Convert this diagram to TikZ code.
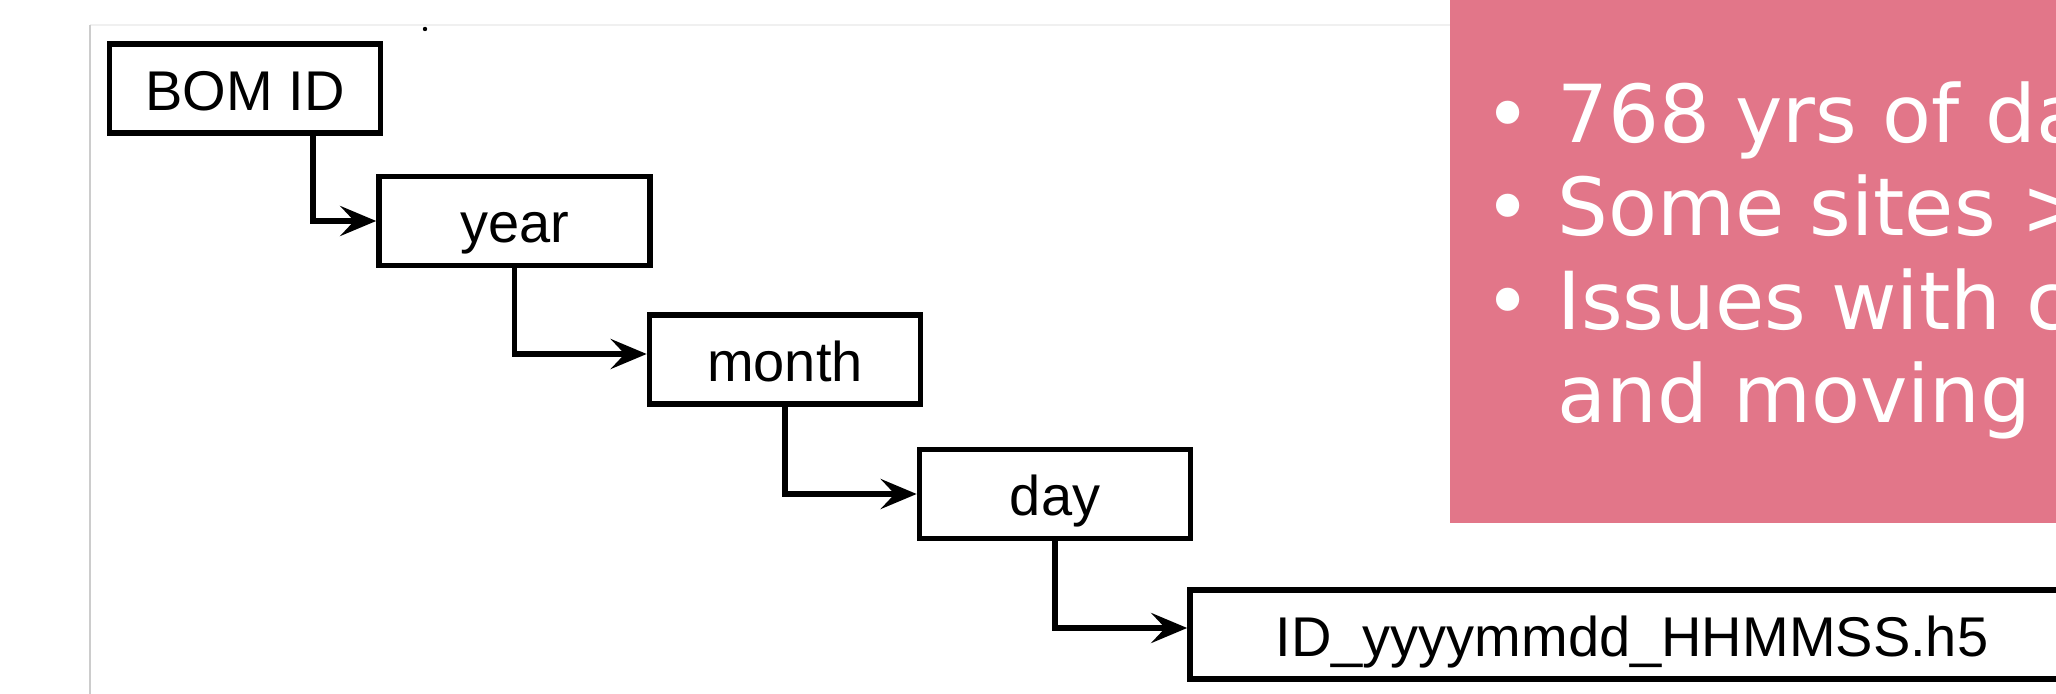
\documentclass[tikz,border=0pt]{standalone}
\usepackage{fontspec}
\setmainfont{Liberation Sans}
\newfontfamily\dejavu{DejaVu Sans}
\usetikzlibrary{arrows.meta}
\definecolor{pinkbg}{RGB}{226,118,137}
\definecolor{frameline}{RGB}{204,204,204}
\definecolor{topline}{RGB}{240,240,240}
\tikzset{
  stepbox/.style={draw=black, line width=2.8pt, inner sep=0pt,
    minimum width=135.5pt, minimum height=44.5pt,
    text height=22pt, text depth=0pt,
    font=\fontsize{28}{32}\selectfont},
  conn/.style={draw=black, line width=2.8pt,
    -{Stealth[length=18pt,width=15pt,inset=7pt]}},
  bullettxt/.style={inner sep=0pt, text=white,
    font=\dejavu\fontsize{40}{46}\selectfont}
}
\begin{document}
\begin{tikzpicture}[x=0.5pt,y=-0.5pt]
\useasboundingbox (0,0) rectangle (2056,694);
% page frame lines
\draw[topline, line width=1pt] (90,25) -- (1450,25);
\draw[frameline, line width=1pt] (90,25) -- (90,700);
\fill[black] (425,29) circle (1.1pt);
% pink panel
\fill[pinkbg] (1450,-10) rectangle (2070,523);
\node[bullettxt, anchor=base] (b1) at (1508,143) {•};
\node[bullettxt, anchor=base west] (t1) at (1557,143) {768 yrs of da};
\node[bullettxt, anchor=base] (b2) at (1508,236) {•};
\node[bullettxt, anchor=base west] (t2) at (1557,236) {Some sites >};
\node[bullettxt, anchor=base] (b3) at (1508,330) {•};
\node[bullettxt, anchor=base west] (t3) at (1557,330) {Issues with c};
\node[bullettxt, anchor=base west] (t4) at (1557,423) {and moving};
% hierarchy boxes
\node[stepbox] (bom) at (245,88.5) {BOM ID};
\node[stepbox] (year) at (514.5,221) {year};
\node[stepbox] (month) at (785,359.5) {month};
\node[stepbox] (day) at (1055,494) {day};
\node[stepbox, minimum width=442pt] (file) at (1632,634.5) {ID\_yyyymmdd\_HHMMSS.h5};
% connectors
\draw[conn] ([xshift=34pt]bom.south) |- (year.west);
\draw[conn] (year.south) |- ([yshift=2.75pt]month.west);
\draw[conn] (month.south) |- (day.west);
\draw[conn] (day.south) |- ([yshift=3.25pt]file.west);
\end{tikzpicture}
\end{document}
